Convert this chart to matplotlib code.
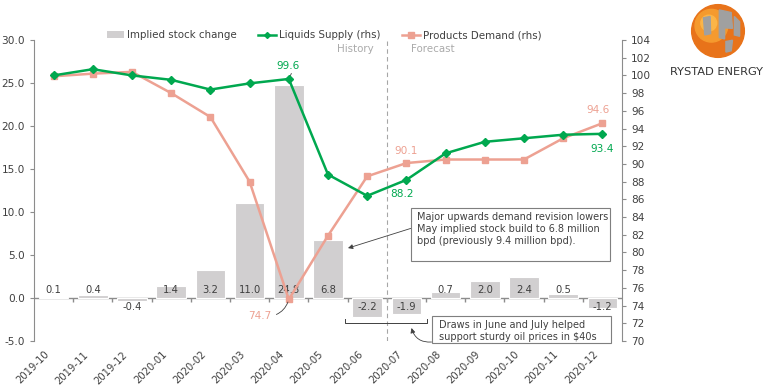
import numpy as np
import matplotlib
matplotlib.use("Agg")
import matplotlib.pyplot as plt
from matplotlib.patches import Patch, Rectangle, Circle, Polygon
from matplotlib.lines import Line2D
from matplotlib.transforms import ScaledTranslation

# data
months = ["2019-10", "2019-11", "2019-12", "2020-01", "2020-02", "2020-03", "2020-04",
          "2020-05", "2020-06", "2020-07", "2020-08", "2020-09", "2020-10", "2020-11", "2020-12"]
stock_change = [0.1, 0.4, -0.4, 1.4, 3.2, 11.0, 24.8, 6.8, -2.2, -1.9, 0.7, 2.0, 2.4, 0.5, -1.2]
liquids_supply = [100.0, 100.7, 100.0, 99.5, 98.4, 99.1, 99.6, 88.8, 86.4, 88.2, 91.2, 92.5, 92.9, 93.3, 93.4]
products_demand = [99.9, 100.2, 100.4, 98.0, 95.3, 88.0, 74.7, 81.9, 88.6, 90.1, 90.5, 90.5, 90.5, 92.9, 94.6]
left_ticks = [-5, 0, 5, 10, 15, 20, 25, 30]
right_ticks = list(range(70, 105, 2))

GREEN = "#00a84f"
SALMON = "#eda192"
BARC = "#d1cfd0"
TXT = "#404040"
GRID = "#8c8c8c"

plt.rcParams["font.family"] = "DejaVu Sans"
plt.rcParams["font.size"] = 7.4

fig = plt.figure(figsize=(7.68, 3.9), dpi=100)
ax = fig.add_axes([34 / 768, 1 - 341 / 390, 588 / 768, 301 / 390])
ax2 = ax.twinx()

x = np.arange(len(months))

# bars (lhs)
ax.bar(x, stock_change, width=0.76, color=BARC, edgecolor="white", linewidth=0.8, zorder=2)
for xi, v in zip(x, stock_change):
    if v >= 0:
        ax.text(xi, 0.4, f"{v:.1f}", ha="center", va="bottom", color=TXT, fontsize=7.2, zorder=3)
    else:
        ax.text(xi, -0.5, f"{v:.1f}", ha="center", va="top", color=TXT, fontsize=7.2, zorder=3)

ax.set_xlim(-0.5, len(months) - 0.5)
ax.set_ylim(-5, 30)
ax.set_yticks(left_ticks)
ax.set_yticklabels([f"{t:.1f}" for t in left_ticks])
ax.set_xticks(x)
ax.set_xticklabels(months, rotation=45, ha="right", rotation_mode="anchor")
ax.tick_params(axis="x", length=0, colors=TXT, labelsize=7.2, pad=6)
ax.tick_params(axis="y", length=3, colors=TXT, labelsize=7.6)
ax.tick_params(axis="y", color=GRID)
shift = ScaledTranslation(-7 / 72, 0, fig.dpi_scale_trans)
for lbl in ax.get_xticklabels():
    lbl.set_transform(lbl.get_transform() + shift)
for s in ["top", "right", "bottom"]:
    ax.spines[s].set_visible(False)
ax.spines["left"].set_color(GRID)

# zero line with category boundary ticks
ax.axhline(0, color=GRID, lw=1, zorder=1)
ax.vlines(x[:-1] + 0.5, -0.45, 0, color=GRID, lw=1, zorder=1)

# history / forecast divider
ax.axvline(8.5, color="#a6a6a6", lw=0.8, ls=(0, (4, 3)), zorder=1)
ax.text(8.17, 28.96, "History", ha="right", va="center", color="#aaaaaa", fontsize=7.4)
ax.text(9.11, 28.96, "Forecast", ha="left", va="center", color="#aaaaaa", fontsize=7.4)

# lines (rhs)
ax2.plot(x, liquids_supply, color=GREEN, lw=1.8, marker="D", ms=4, zorder=4)
ax2.plot(x, products_demand, color=SALMON, lw=1.8, marker="s", ms=4.5, zorder=3)
ax2.set_ylim(70, 104)
ax2.set_yticks(right_ticks)
ax2.tick_params(axis="y", length=3, colors=TXT, labelsize=7.6)
ax2.tick_params(axis="y", color=GRID)
for s in ["top", "left", "bottom"]:
    ax2.spines[s].set_visible(False)
ax2.spines["right"].set_color(GRID)

# value labels on lines
ax2.annotate("99.6", xy=(6, 99.6), xytext=(5.98, 101.1), ha="center", va="center",
             color=GREEN, fontsize=7.6,
             arrowprops=dict(arrowstyle="-", color="#404040", lw=0.6, relpos=(0.7, 0),
                             shrinkA=0, shrinkB=2))
ax2.annotate("74.7", xy=(6, 74.7), xytext=(5.25, 72.8), ha="center", va="center",
             color=SALMON, fontsize=7.6,
             arrowprops=dict(arrowstyle="-", color="#404040", lw=0.6, relpos=(1, 0.5),
                             shrinkA=2, shrinkB=2, connectionstyle="arc3,rad=0.3"))
ax2.text(8.88, 86.57, "88.2", ha="center", va="center", color=GREEN, fontsize=7.6)
ax2.text(9.0, 91.46, "90.1", ha="center", va="center", color=SALMON, fontsize=7.6)
ax2.text(13.89, 96.06, "94.6", ha="center", va="center", color=SALMON, fontsize=7.6)
ax2.text(14.0, 91.69, "93.4", ha="center", va="center", color=GREEN, fontsize=7.6)

# annotation box 1
box1 = Rectangle((9.11, 4.26), 14.19 - 9.11, 10.49 - 4.26, fill=True, facecolor="white",
                 edgecolor="#7f7f7f", lw=0.8, zorder=5, clip_on=False)
ax.add_patch(box1)
ax.text(9.28, 9.95, "Major upwards demand revision lowers\nMay implied stock build to 6.8 million\nbpd (previously 9.4 million bpd).",
        ha="left", va="top", color=TXT, fontsize=7.05, linespacing=1.2, zorder=6)
ax.annotate("", xy=(7.51, 5.8), xytext=(9.11, 8.09),
            arrowprops=dict(arrowstyle="-|>", color="#404040", lw=0.6, mutation_scale=7,
                            shrinkA=0, shrinkB=0), zorder=6)

# annotation box 2 + bracket
box2 = Rectangle((9.66, -5.23), 14.22 - 9.66, -2.13 + 5.23, fill=True, facecolor="white",
                 edgecolor="#7f7f7f", lw=0.8, zorder=5, clip_on=False)
ax.add_patch(box2)
ax.text(9.83, -2.55, "Draws in June and July helped\nsupport sturdy oil prices in $40s",
        ha="left", va="top", color=TXT, fontsize=7.05, linespacing=1.2, zorder=6)
ax.plot([7.43, 7.43, 9.52, 9.52], [-2.40, -2.86, -2.86, -2.40], color="#404040", lw=0.7, zorder=6)
ax.annotate("", xy=(9.13, -3.49), xytext=(9.64, -5.12),
            arrowprops=dict(arrowstyle="-|>", color="#404040", lw=0.6, mutation_scale=7,
                            shrinkA=0, shrinkB=0, connectionstyle="arc3,rad=-0.4"),
            annotation_clip=False, zorder=6)

# legend
handles = [Patch(facecolor=BARC, edgecolor="none"),
           Line2D([], [], color=GREEN, lw=1.8, marker="D", ms=3),
           Line2D([], [], color=SALMON, lw=1.8, marker="s", ms=4)]
labels = ["Implied stock change", "Liquids Supply (rhs)", "Products Demand (rhs)"]
leg = ax2.legend(handles, labels, ncol=3, loc="lower center", bbox_to_anchor=(0.493, 0.985),
                 frameon=False, fontsize=7.4, handlelength=1.7, handletextpad=0.3,
                 columnspacing=2.1, borderaxespad=0)
for t in leg.get_texts():
    t.set_color(TXT)

# logo
lax = fig.add_axes([688 / 768, 1 - 60 / 390, 60 / 768, 58 / 390])
lax.set_xlim(-1.1, 1.1)
lax.set_ylim(-1.1, 1.1)
lax.set_aspect("equal")
lax.axis("off")
lax.add_patch(Circle((0, 0), 1.0, color="#e8731a"))
lax.add_patch(Circle((-0.25, 0.2), 0.62, color="#f59a2e"))
lax.add_patch(Circle((-0.35, 0.3), 0.3, color="#fbb548"))
for poly in [[(0.05, 0.8), (0.5, 0.7), (0.55, 0.1), (0.25, 0.12), (0.25, -0.3), (0.05, -0.25)],
             [(-0.55, 0.5), (-0.3, 0.55), (-0.28, -0.1), (-0.5, -0.15)],
             [(0.62, 0.55), (0.82, 0.35), (0.82, -0.2), (0.62, -0.15)],
             [(0.3, -0.4), (0.55, -0.35), (0.5, -0.75), (0.3, -0.8)]]:
    lax.add_patch(Polygon(poly, closed=True, color="#a0a0a0"))
fig.text(716 / 768, 1 - 72 / 390, "RYSTAD ENERGY", ha="center", va="center", fontsize=8.2, color="#333333")

fig.savefig("out.png", dpi=100)
